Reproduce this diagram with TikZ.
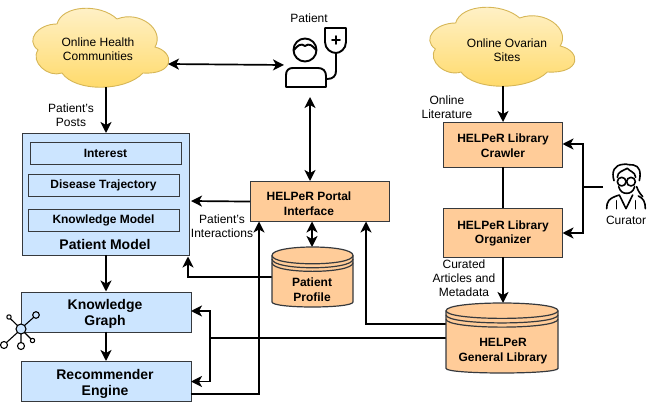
\documentclass[tikz,border=0pt]{standalone}
\usepackage{fontspec}
\setmainfont{Liberation Sans}
\usetikzlibrary{arrows.meta}
\definecolor{bluefill}{HTML}{CCE5FF}
\definecolor{orangefill}{HTML}{FFCC99}
\definecolor{edgegrey}{HTML}{36393D}
\definecolor{cloudtop}{HTML}{FFF2CC}
\definecolor{cloudbot}{HTML}{FFD966}
\definecolor{cloudline}{HTML}{D6B656}
\tikzset{
  reg/.style={font=\fontsize{12}{14}\selectfont,align=center,inner sep=0pt},
  bold/.style={font=\fontsize{12}{14.5}\selectfont\bfseries,align=center,inner sep=0pt},
  boldbig/.style={font=\fontsize{14}{16}\selectfont\bfseries,align=center,inner sep=0pt},
  box/.style={draw=edgegrey,line width=1.1pt,inner sep=0pt,anchor=north west},
  bluebox/.style={box,fill=bluefill},
  orangebox/.style={box,fill=orangefill},
  innerbox/.style={draw=edgegrey,line width=.9pt,fill=bluefill,inner sep=0pt,anchor=north west},
  conn/.style={draw=black,line width=1.7pt,-{Stealth[length=11pt,width=11pt,inset=3pt]}},
  conn2/.style={draw=black,line width=1.7pt,{Stealth[length=11pt,width=11pt,inset=3pt]}-{Stealth[length=11pt,width=11pt,inset=3pt]}},
  plain/.style={draw=black,line width=1.7pt},
  icon/.style={draw=black,line width=1.9pt,line join=round,line cap=round},
  curicon/.style={draw=black,line width=1.6pt,line join=round,line cap=round},
  thinicon/.style={draw=black,line width=1.1pt,line join=round,line cap=round},
  cloudstyle/.style={draw=cloudline,line width=.9pt,top color=cloudtop,bottom color=cloudbot},
  cylstyle/.style={draw=edgegrey,line width=1.2pt,fill=orangefill}
}
% cloud outline, in the pixels of the left cloud
\newcommand{\cloudpath}{(57,24) .. controls (38,24) and (25,40) .. (38,50)
 .. controls (30,62) and (48,78) .. (62,73)
 .. controls (75,92) and (125,92) .. (143,73)
 .. controls (175,75) and (175,52) .. (155,47)
 .. controls (165,30) and (140,10) .. (117,19)
 .. controls (100,3) and (62,5) .. (57,24) -- cycle}
% #1 x0, #2 y0, #3 w, #4 h, #5 fraction of ellipse height
\newcommand{\cylshape}[5]{%
 \begin{scope}[shift={(#1,#2)},x=#3pt,y=-#4pt]
  \path[cylstyle] (0,#5) .. controls (0,-#5/3) and (1,-#5/3) .. (1,#5)
    -- (1,1-#5*.6) .. controls (1,1+#5*.2) and (0,1+#5*.2) .. (0,1-#5*.6) -- cycle;
  \draw[edgegrey,line width=1.2pt] (0,#5) .. controls (0,2.33*#5) and (1,2.33*#5) .. (1,#5);
  \draw[edgegrey,line width=1.2pt] (0,#5+.06) .. controls (0,2.39*#5+.06) and (1,2.39*#5+.06) .. (1,#5+.06);
  \draw[edgegrey,line width=1.2pt] (0,#5+.12) .. controls (0,2.39*#5+.12) and (1,2.39*#5+.12) .. (1,#5+.12);
 \end{scope}}
\begin{document}
\begin{tikzpicture}[x=1pt,y=-1pt]
\useasboundingbox (0,0) rectangle (650,403);
% clouds
\path[cloudstyle] \cloudpath;
\begin{scope}[shift={(394.8,-1)},x=1.067pt]
 \path[cloudstyle] \cloudpath;
\end{scope}
\node[reg] (cloudA) at (98,49) {Online Health\\Communities};
\node[reg] (cloudB) at (507,50) {Online Ovarian\\Sites};
\coordinate (cloudAs) at (106,87);
\coordinate (cloudAe) at (168,64);
\coordinate (cloudBs) at (503,86);
% boxes
\node[bluebox,minimum width=167pt,minimum height=122pt] (pm) at (22,133) {};
\node[innerbox,minimum width=151pt,minimum height=22pt] (interest) at (30,142) {};
\node[innerbox,minimum width=151pt,minimum height=22pt] (disease) at (28,174) {};
\node[innerbox,minimum width=151pt,minimum height=22pt] (kmodel) at (28,209) {};
\node[bold] (interestT) at (105.5,153.5) {Interest};
\node[bold] (diseaseT) at (103.5,185.5) {Disease Trajectory};
\node[bold] (kmodelT) at (103.5,220.5) {Knowledge Model};
\node[boldbig] (pmT) at (105,244) {Patient Model};
\node[bluebox,minimum width=170pt,minimum height=40pt] (kg) at (20.5,291.5) {};
\node[boldbig] (kgT) at (105,314) {Knowledge\\Graph};
\node[bluebox,minimum width=170pt,minimum height=40pt] (rec) at (20.5,361) {};
\node[boldbig] (recT) at (105,383.5) {Recommender\\Engine};
\node[orangebox,minimum width=139pt,minimum height=40pt] (portal) at (250,181) {};
\node[bold] (portalT) at (309,203.5) {HELPeR Portal\\Interface};
\node[orangebox,minimum width=119pt,minimum height=45pt] (crawler) at (443,122) {};
\node[bold] (crawlerT) at (503,145.5) {HELPeR Library\\Crawler};
\node[orangebox,minimum width=119pt,minimum height=49pt] (organizer) at (443,208) {};
\node[bold] (organizerT) at (503,233.5) {HELPeR Library\\Organizer};
% named invisible anchors of the cylinders
\node[inner sep=0pt,minimum width=81pt,minimum height=60pt] (profile) at (312.5,277) {};
\node[inner sep=0pt,minimum width=112pt,minimum height=70pt] (library) at (502,338) {};
\coordinate (patientW) at (284,65);
\coordinate (patientS) at (310,97);
\coordinate (curatorW) at (603,187);
\coordinate (junc) at (583,187);
\coordinate (juncB) at (210,338);
\coordinate (libUp) at (446,324);
\coordinate (libLow) at (446,338);
% connectors
\draw[conn] (cloudAs) -- (cloudAs |- pm.north);
\draw[conn2] (cloudAe) -- (patientW);
\draw[conn2] (patientS) -- (patientS |- portal.north);
\draw[conn] (portal.west) -- (191,201);
\draw[conn] (profile.west) -| (188,256.5);
\draw[conn2] (312,221.5) -- (312,247);
\draw[conn] (106,255) -- (106,291.5);
\draw[conn] (106,331.5) -- (106,361);
\draw[plain] (libLow) -- (juncB);
\draw[conn] (juncB) |- (191,311);
\draw[conn] (juncB) |- (191,381.5);
\draw[conn] (libUp) -| (366,221.5);
\draw[conn] (190.5,394) -| (259,221.5);
\draw[conn] (cloudBs) -- (cloudBs |- crawler.north);
\draw[plain] (503,167) -- (503,208);
\draw[conn] (503,257) -- (503,303);
\draw[plain] (curatorW) -- (junc);
\draw[conn] (junc) |- (562.5,144);
\draw[conn] (junc) |- (562.5,233);
% cylinders
\cylshape{272}{247}{81}{60}{.14}
\cylshape{446}{303}{112}{70}{.11}
\node[bold] (profileT) at (312,289.5) {Patient\\Profile};
\node[bold] (libraryT) at (503,351) {HELPeR\\General Library};
% labels
\node[reg] (lblPatient) at (309,18) {Patient};
\node[reg] (lblPosts) at (71,115) {Patient's\\Posts};
\node[reg] (lblInter) at (222,226) {Patient's\\Interactions};
\node[reg] (lblLit) at (447,107) {Online\\Literature};
\node[reg] (lblCur) at (464,278) {Curated\\Articles and\\Metadata};
\node[reg] (lblCurator) at (626,220) {Curator};
% patient icon
\draw[icon] (305,50) circle[radius=11.5];
\draw[icon] (294,50) .. controls (298,45) and (301,43) .. (305,46) .. controls (309,43) and (312,45) .. (316,50);
\draw[icon] (286,87) -- (286,75) .. controls (286,70) and (289,68) .. (293,68) -- (318,68) .. controls (323,68) and (326,71) .. (326,76) -- (326,87) -- cycle;
\draw[icon] (325,28) -- (346,28) -- (346,42) .. controls (346,49) and (340,53) .. (336,53) .. controls (331,53) and (325,49) .. (325,42) -- cycle;
\draw[icon] (336,53) -- (336,71) .. controls (336,76) and (333,79) .. (327,79);
\draw[icon] (336,36) -- (336,44) (332,40) -- (340,40);
% network icon
\begin{scope}
 \draw[thinicon,fill=bluefill] (21,329) circle[radius=5];
 \draw[thinicon] (36,315) circle[radius=3.3];
 \draw[thinicon] (9,317) circle[radius=2.2];
 \draw[thinicon] (4,345) circle[radius=3.5];
 \draw[thinicon] (21,346) circle[radius=3.5];
 \draw[thinicon] (32.5,340.5) circle[radius=2.2];
 \draw[thinicon] (24.5,325.5) -- (33.5,317.5) (17.5,325.5) -- (10.5,318.8) (17.5,332.5) -- (6.5,342.5) (21,334) -- (21,342.5) (24.5,332.5) -- (31,339);
\end{scope}
% curator icon
\begin{scope}[shift={(540,130)},scale=1/3]
 \draw[curicon] (222,152) .. controls (214,125) and (222,105) .. (250,103) .. controls (262,100) and (270,108) .. (280,105) .. controls (298,108) and (304,125) .. (298,152);
 \draw[curicon] (232,142) .. controls (232,125) and (250,122) .. (262,115) .. controls (270,125) and (285,125) .. (287,142);
 \draw[curicon] (236,170) .. controls (240,185) and (250,190) .. (260,190) .. controls (270,190) and (280,185) .. (284,170);
 \draw[curicon] (245,155) circle[radius=13];
 \draw[curicon] (273,155) circle[radius=13];
 \draw[curicon] (258,153) -- (260,153);
 \draw[curicon] (290,170) .. controls (295,185) and (300,190) .. (308,200);
 \draw[curicon] (200,236) .. controls (200,215) and (205,205) .. (238,195) -- (258,236) -- (278,195);
 \draw[curicon] (316,236) .. controls (316,215) and (310,205) .. (295,198);
 \draw[curicon] (230,236) -- (230,212) (286,236) -- (286,212);
\end{scope}
\end{tikzpicture}
\end{document}
